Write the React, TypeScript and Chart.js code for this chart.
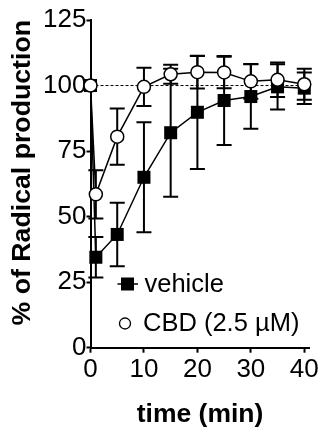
import React, { useEffect, useRef } from "react";
import { Chart, registerables } from "chart.js";

Chart.register(...registerables);

const timeMin = [0, 1, 5, 10, 15, 20, 25, 30, 35, 40];
const vehicleValues = [100, 34.5, 43.2, 65, 82, 89.8, 94.3, 95.8, 99.5, 99];
const vehicleErrors = [0, 7.7, 12.1, 21, 24.4, 21.6, 17, 12.3, 8.6, 6];
const cbdValues = [100, 58.5, 80.5, 99.5, 104.3, 105.1, 105, 101.6, 102.2, 100.5];
const cbdErrors = [0, 9.2, 10.7, 7.3, 3.6, 6.2, 6, 6.6, 6.6, 5.9];
const baselineX = [0, 40];
const baselineY = [100, 100];
const xTickValues = [0, 10, 20, 30, 40];
const yTickValues = [0, 25, 50, 75, 100, 125];
const legendLabels = ["vehicle", "CBD (2.5 µM)"];
const xTitle = "time (min)";
const yTitle = "% of Radical production";

const FONT = "'Liberation Sans', Arial, Helvetica, sans-serif";

const errorBarPlugin = {
  id: "errorBars",
  beforeDatasetsDraw(chart: any) {
    const { ctx, scales } = chart;
    const xs = scales.x;
    const ys = scales.y;
    ctx.save();
    ctx.strokeStyle = "#000";
    ctx.lineWidth = 2;
    chart.data.datasets.forEach((ds: any) => {
      if (!ds.errors) return;
      ds.data.forEach((p: any, i: number) => {
        const e = ds.errors[i];
        if (!e) return;
        const px = xs.getPixelForValue(p.x);
        const top = ys.getPixelForValue(p.y + e);
        const bot = ys.getPixelForValue(p.y - e);
        const cap = 7.5;
        ctx.beginPath();
        ctx.moveTo(px, top);
        ctx.lineTo(px, bot);
        ctx.moveTo(px - cap, top);
        ctx.lineTo(px + cap, top);
        ctx.moveTo(px - cap, bot);
        ctx.lineTo(px + cap, bot);
        ctx.stroke();
      });
    });
    ctx.restore();
  },
};

const legendPlugin = {
  id: "customLegend",
  afterDraw(chart: any) {
    const { ctx } = chart;
    ctx.save();
    ctx.font = `25.5px ${FONT}`;
    ctx.fillStyle = "#000";
    ctx.textBaseline = "middle";
    ctx.textAlign = "left";
    // vehicle
    const y1 = 284;
    ctx.strokeStyle = "#000";
    ctx.lineWidth = 1.5;
    ctx.beginPath();
    ctx.moveTo(117.5, y1);
    ctx.lineTo(138, y1);
    ctx.stroke();
    ctx.fillRect(127.5 - 6.5, y1 - 6.5, 13, 13);
    ctx.fillText(legendLabels[0], 144.5, y1 + 0.5);
    // CBD
    const y2 = 323.5;
    ctx.beginPath();
    ctx.arc(125, y2, 5.5, 0, Math.PI * 2);
    ctx.fillStyle = "#fff";
    ctx.fill();
    ctx.lineWidth = 1.3;
    ctx.stroke();
    ctx.fillStyle = "#000";
    ctx.fillText(legendLabels[1], 143, y2 + 0.5);
    ctx.restore();
  },
};

export default function App() {
  const ref = useRef<HTMLCanvasElement | null>(null);
  useEffect(() => {
    document.body.style.margin = "0";
    if (!ref.current) return;
    const chart = new Chart(ref.current, {
      type: "line",
      data: {
        datasets: [
          {
            label: legendLabels[1],
            data: timeMin.map((t, i) => ({ x: t, y: cbdValues[i] })),
            errors: cbdErrors,
            borderColor: "#000",
            borderWidth: 1.5,
            pointStyle: "circle",
            pointRadius: 6.5,
            pointBorderWidth: 1.5,
            pointBorderColor: "#000",
            pointBackgroundColor: "#fff",
            clip: false,
            order: 1,
          } as any,
          {
            label: legendLabels[0],
            data: timeMin.map((t, i) => ({ x: t, y: vehicleValues[i] })),
            errors: vehicleErrors,
            borderColor: "#000",
            borderWidth: 1.5,
            pointStyle: "rect",
            pointRadius: 9.2,
            pointBorderWidth: 0,
            pointBackgroundColor: "#000",
            clip: false,
            order: 2,
          } as any,
          {
            label: "baseline",
            data: baselineX.map((x, i) => ({ x, y: baselineY[i] })),
            borderColor: "#000",
            borderWidth: 1,
            borderDash: [3, 2],
            pointRadius: 0,
            clip: false,
            order: 3,
          } as any,
        ],
      },
      options: {
        animation: false,
        responsive: true,
        maintainAspectRatio: false,
        layout: { padding: { top: 20, right: 10.5, left: 0, bottom: 0 } },
        plugins: {
          legend: { display: false },
          tooltip: { enabled: false },
        },
        scales: {
          x: {
            type: "linear",
            min: 0,
            max: 41,
            afterBuildTicks: (s: any) => {
              s.ticks = xTickValues.map((v) => ({ value: v }));
            },
            afterFit: (s: any) => {
              s.height = 88.3;
            },
            grid: {
              display: true,
              drawOnChartArea: false,
              drawTicks: true,
              tickLength: 5,
              tickWidth: 2,
              tickColor: "#000",
            },
            border: { display: true, color: "#000", width: 2 },
            ticks: {
              color: "#000",
              font: { family: FONT, size: 26 },
              padding: 2,
              maxRotation: 0,
              autoSkip: false,
            },
            title: {
              display: true,
              text: xTitle,
              color: "#000",
              font: { family: FONT, size: 26.5, weight: "bold", lineHeight: 1.2 },
              padding: { top: 0, bottom: 5 },
            },
          },
          y: {
            type: "linear",
            min: 0,
            max: 125,
            afterBuildTicks: (s: any) => {
              s.ticks = yTickValues.map((v) => ({ value: v }));
            },
            afterFit: (s: any) => {
              s.width = 90.5;
            },
            grid: {
              display: true,
              drawOnChartArea: false,
              drawTicks: true,
              tickLength: 4,
              tickWidth: 2,
              tickColor: "#000",
            },
            border: { display: true, color: "#000", width: 2 },
            ticks: {
              color: "#000",
              font: { family: FONT, size: 26 },
              padding: 0,
              autoSkip: false,
            },
            title: {
              display: true,
              text: yTitle,
              align: "end",
              color: "#000",
              font: { family: FONT, size: 26.7, weight: "bold", lineHeight: 1.2 },
              padding: { top: 6.5, bottom: 0 },
            },
          },
        },
      } as any,
      plugins: [errorBarPlugin, legendPlugin],
    });
    return () => chart.destroy();
  }, []);
  return (
    <div style={{ width: 321, height: 436, position: "relative" }}>
      <canvas ref={ref} />
    </div>
  );
}
